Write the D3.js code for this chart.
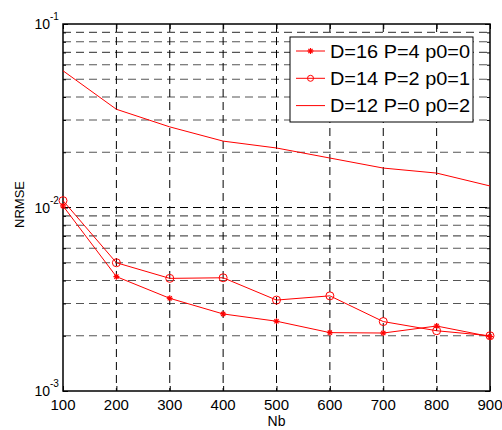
<!DOCTYPE html>
<html>
<head>
<meta charset="utf-8">
<script src="https://cdn.jsdelivr.net/npm/d3@7"></script>
<style>
  body { margin: 0; background: #fff; }
  svg { display: block; font-family: "Liberation Sans", Arial, sans-serif; }
</style>
</head>
<body>
<div id="chart"></div>
<script>
const nb = [100, 200, 300, 400, 500, 600, 700, 800, 900];
const seriesNames = ['D=16 P=4 p0=0', 'D=14 P=2 p0=1', 'D=12 P=0 p0=2'];
const starValues = [0.0102, 0.0042, 0.0032, 0.00263, 0.0024, 0.00208, 0.00207, 0.00226, 0.00198];
const circleValues = [0.0109, 0.0050, 0.00411, 0.00414, 0.00313, 0.0033, 0.00239, 0.00213, 0.0020];
const plainValues = [0.0556, 0.0343, 0.0275, 0.023, 0.0211, 0.0186, 0.0164, 0.0154, 0.0131];
const xTicks = [100, 200, 300, 400, 500, 600, 700, 800, 900];
const yDecades = [-3, -2, -1];

const width = 502, height = 430;
const margin = { top: 24, right: 12, bottom: 39, left: 63 };
const red = '#ff0000';

const svg = d3.select('#chart').append('svg')
    .attr('width', width)
    .attr('height', height);

const x = d3.scaleLinear()
    .domain([100, 900])
    .range([margin.left, width - margin.right]);

const y = d3.scaleLog()
    .domain([1e-3, 1e-1])
    .range([height - margin.bottom, margin.top]);

const g = svg.append('g');

// grid
const minorVals = [];
[1e-3, 1e-2].forEach(base => {
    for (let k = 2; k <= 9; k++) minorVals.push(base * k);
});

g.append('g').selectAll('line')
    .data(minorVals)
    .join('line')
    .attr('x1', margin.left).attr('x2', width - margin.right)
    .attr('y1', d => y(d)).attr('y2', d => y(d))
    .attr('stroke', '#555')
    .attr('stroke-width', 1.1)
    .attr('stroke-dasharray', '8,5');

g.append('g').selectAll('line')
    .data([1e-2])
    .join('line')
    .attr('x1', margin.left).attr('x2', width - margin.right)
    .attr('y1', d => y(d)).attr('y2', d => y(d))
    .attr('stroke', '#000')
    .attr('stroke-dasharray', '8,5');

g.append('g').selectAll('line')
    .data(xTicks.slice(1, -1))
    .join('line')
    .attr('x1', d => x(d)).attr('x2', d => x(d))
    .attr('y1', margin.top).attr('y2', height - margin.bottom)
    .attr('stroke', '#000')
    .attr('stroke-dasharray', '8,5');

// ticks (inside)
g.append('g')
    .attr('transform', `translate(0,${height - margin.bottom})`)
    .call(d3.axisBottom(x).tickValues(xTicks).tickSize(-5).tickFormat(''))
    .call(s => s.select('.domain').remove());
g.append('g')
    .attr('transform', `translate(0,${margin.top})`)
    .call(d3.axisTop(x).tickValues(xTicks).tickSize(-5).tickFormat(''))
    .call(s => s.select('.domain').remove());

const allY = minorVals.concat([1e-3, 1e-2, 1e-1]);
g.append('g')
    .attr('transform', `translate(${margin.left},0)`)
    .call(d3.axisLeft(y).tickValues(allY).tickSize(-3).tickFormat(''))
    .call(s => s.select('.domain').remove())
    .selectAll('.tick line')
    .attr('x2', d => [1e-3, 1e-2, 1e-1].includes(d) ? 5 : 3);
g.append('g')
    .attr('transform', `translate(${width - margin.right},0)`)
    .call(d3.axisRight(y).tickValues(allY).tickSize(-3).tickFormat(''))
    .call(s => s.select('.domain').remove())
    .selectAll('.tick line')
    .attr('x2', d => [1e-3, 1e-2, 1e-1].includes(d) ? -5 : -3);

// box
g.append('rect')
    .attr('x', margin.left).attr('y', margin.top)
    .attr('width', width - margin.left - margin.right)
    .attr('height', height - margin.top - margin.bottom)
    .attr('fill', 'none')
    .attr('stroke', '#000')
    .attr('stroke-width', 1.5);

// x tick labels
g.append('g').selectAll('text')
    .data(xTicks)
    .join('text')
    .attr('x', d => x(d))
    .attr('y', height - margin.bottom + 19)
    .attr('text-anchor', 'middle')
    .attr('font-size', 15)
    .text(d => d);

// y tick labels
const yl = g.append('g').selectAll('g')
    .data(yDecades)
    .join('g')
    .attr('transform', d => `translate(${margin.left - 13},${y(Math.pow(10, d)) + 5})`);
yl.append('text')
    .attr('text-anchor', 'end')
    .attr('font-size', 14)
    .text('10');
yl.append('text')
    .attr('x', 0).attr('y', -9)
    .attr('font-size', 10)
    .text(d => d);

// axis titles
svg.append('text')
    .attr('x', (margin.left + width - margin.right) / 2)
    .attr('y', height - 4)
    .attr('text-anchor', 'middle')
    .attr('font-size', 14)
    .text('Nb');
svg.append('text')
    .attr('transform', `translate(24,${(margin.top + height - margin.bottom) / 2 - 3}) rotate(-90)`)
    .attr('text-anchor', 'middle')
    .attr('font-size', 13)
    .text('NRMSE');

// lines
const line = d3.line()
    .x((d, i) => x(nb[i]))
    .y(d => y(d));

[starValues, circleValues, plainValues].forEach(vals => {
    g.append('path')
        .datum(vals)
        .attr('d', line)
        .attr('fill', 'none')
        .attr('stroke', red)
        .attr('stroke-width', 1);
});

function drawStar(sel, cx, cy) {
    const r = 3;
    const a = sel.append('g').attr('transform', `translate(${cx},${cy})`)
        .attr('stroke', red).attr('stroke-width', 1.2);
    a.append('line').attr('x1', -r).attr('x2', r).attr('y1', 0).attr('y2', 0);
    a.append('line').attr('x1', 0).attr('x2', 0).attr('y1', -r).attr('y2', r);
    a.append('line').attr('x1', -r * 0.7).attr('x2', r * 0.7).attr('y1', -r * 0.7).attr('y2', r * 0.7);
    a.append('line').attr('x1', -r * 0.7).attr('x2', r * 0.7).attr('y1', r * 0.7).attr('y2', -r * 0.7);
}

starValues.forEach((v, i) => drawStar(g, x(nb[i]), y(v)));

g.append('g').selectAll('circle')
    .data(circleValues)
    .join('circle')
    .attr('cx', (d, i) => x(nb[i]))
    .attr('cy', d => y(d))
    .attr('r', 4)
    .attr('fill', 'none')
    .attr('stroke', red)
    .attr('stroke-width', 1);

// legend
const legend = svg.append('g').attr('transform', 'translate(290,37)');
legend.append('rect')
    .attr('width', 183).attr('height', 85)
    .attr('fill', '#fff')
    .attr('stroke', '#000')
    .attr('stroke-width', 1);

seriesNames.forEach((name, i) => {
    const ly = 14 + i * 27.3;
    legend.append('line')
        .attr('x1', 6).attr('x2', 35)
        .attr('y1', ly).attr('y2', ly)
        .attr('stroke', red).attr('stroke-width', 1);
    if (i === 0) drawStar(legend, 20.5, ly);
    if (i === 1) legend.append('circle')
        .attr('cx', 20.5).attr('cy', ly).attr('r', 3)
        .attr('fill', 'none').attr('stroke', red);
    legend.append('text')
        .attr('x', 40).attr('y', ly + 6.5)
        .attr('font-size', 18.5)
        .attr('textLength', 140)
        .attr('lengthAdjust', 'spacingAndGlyphs')
        .text(name);
});
</script>
</body>
</html>
